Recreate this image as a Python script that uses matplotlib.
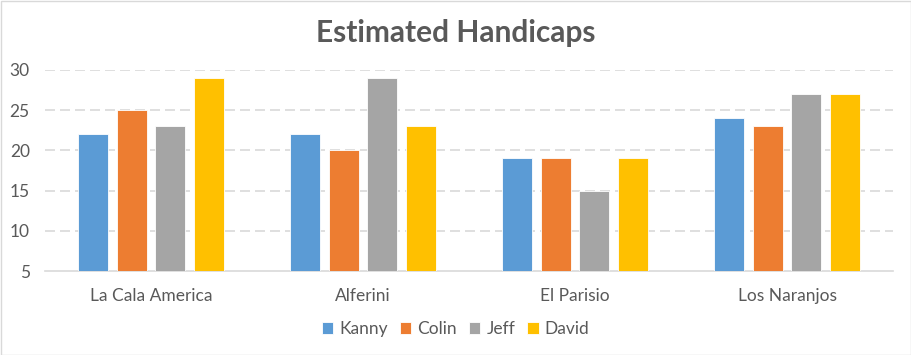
import numpy as np
import matplotlib.pyplot as plt
from matplotlib.patches import Rectangle

plt.rcParams['font.family'] = ['Lato', 'DejaVu Sans']

courses = ['La Cala America', 'Alferini', 'El Parisio', 'Los Naranjos']
players = ['Kanny', 'Colin', 'Jeff', 'David']
kanny = [22, 22, 19, 24]
colin = [25, 20, 19, 23]
jeff = [23, 29, 15, 27]
david = [29, 23, 19, 27]
colors = ['#5B9BD5', '#ED7D31', '#A5A5A5', '#FFC000']

text_col = '#595959'

fig = plt.figure(figsize=(9.11, 3.55), dpi=100)
ax = fig.add_axes([45 / 911, 1 - 271 / 355, 848 / 911, 201 / 355])

x = np.arange(len(courses))
width = 0.142
step = 0.182
for i, (vals, c, name) in enumerate(zip([kanny, colin, jeff, david], colors, players)):
    h = np.array(vals) - 5
    ax.bar(x + (i - 1.5) * step, h, width, bottom=5, color=c, label=name,
           edgecolor='white', linewidth=0.6, zorder=3)

ax.set_xlim(-0.5, len(courses) - 0.5)
ax.set_ylim(5, 30)
ax.set_yticks(range(5, 31, 5))
ax.set_xticks(x)
ax.set_xticklabels(courses)
ax.tick_params(axis='both', length=0, labelsize=12.5, colors=text_col)
ax.tick_params(axis='y', pad=11)
ax.tick_params(axis='x', pad=12)

for y in range(10, 31, 5):
    ax.axhline(y, color='#D9D9D9', linestyle=(0, (6, 3)), linewidth=1.2, zorder=1)
for s in ['top', 'right', 'left']:
    ax.spines[s].set_visible(False)
ax.spines['bottom'].set_color('#D9D9D9')
ax.spines['bottom'].set_linewidth(1.2)

fig.text(0.5, 1 - 33 / 355, 'Estimated Handicaps', ha='center', va='center',
         fontsize=21.5, fontweight='bold', color=text_col)

fig.legend(loc='center', bbox_to_anchor=(0.5, 1 - 329 / 355), ncol=4,
           frameon=False, fontsize=12.5, labelcolor=text_col,
           handlelength=0.65, handleheight=0.65, handletextpad=0.35, columnspacing=0.7)

fig.patches.append(Rectangle((0.5 / 911, 0.5 / 355), 1 - 1 / 911, 1 - 1 / 355,
                             transform=fig.transFigure, fill=False,
                             edgecolor='#D9D9D9', linewidth=1))

fig.savefig('out.png', dpi=100)
